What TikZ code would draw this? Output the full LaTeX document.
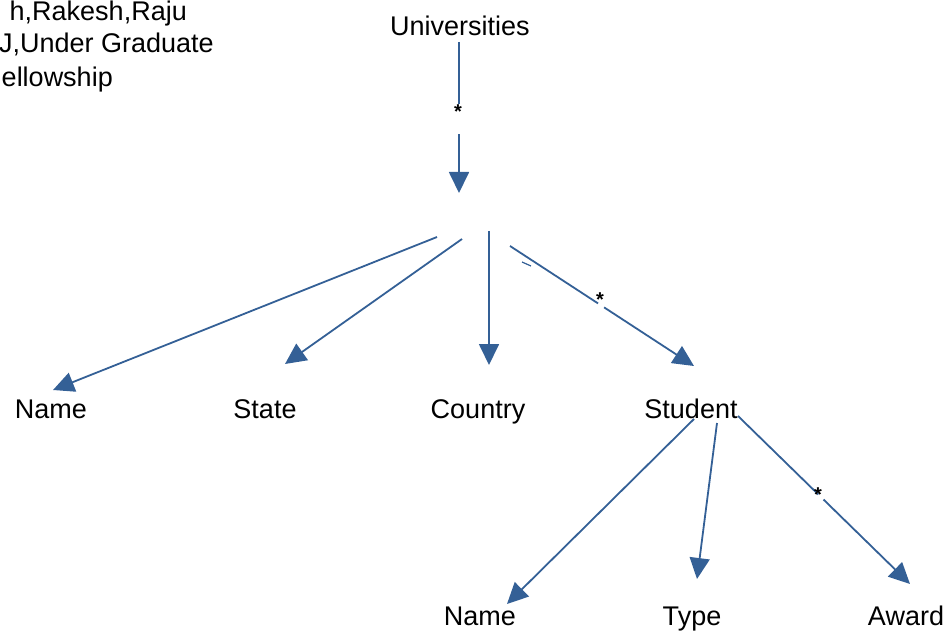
\documentclass[tikz,border=0pt]{standalone}
\usepackage{fontspec}
\setmainfont{Liberation Sans}
\usetikzlibrary{arrows.meta}
\definecolor{linkblue}{RGB}{52,96,150}
\tikzset{
  lbl/.style={inner sep=0pt, anchor=base, font=\fontsize{27}{30}\selectfont},
  leftlbl/.style={lbl, anchor=base east},
  link/.style={draw=linkblue, line width=1.8pt, -{Triangle[length=21pt,width=20pt]}},
  gap/.style={fill=white, inner sep=0pt, minimum width=7pt},
  star/.style={inner sep=0pt, font=\fontsize{20}{20}\bfseries\selectfont}
}
\begin{document}
\begin{tikzpicture}[x=1pt,y=-1pt]
\useasboundingbox (0,0) rectangle (951,631);
% left text block
\node[leftlbl] (l1) at (187,21) {h,Rakesh,Raju};
\node[leftlbl] (l2) at (214,53) {J,Under Graduate};
\node[leftlbl] (l3) at (113,87) {ellowship};
% nodes
\node[lbl] (univ) at (460,36) {Universities};
\node[lbl] (name) at (51,418) {Name};
\node[lbl] (state) at (265,418) {State};
\node[lbl] (country) at (478,418) {Country};
\node[lbl] (student) at (691,418) {Student};
\node[lbl] (sname) at (480,625) {Name};
\node[lbl] (type) at (692,625) {Type};
\node[lbl] (award) at (906,625) {Award};
% connector end points
\coordinate (u0) at (459,42);
\coordinate (hub) at (459,193);
\coordinate (h1) at (437,237);
\coordinate (h2) at (462,239);
\coordinate (h3) at (489,231);
\coordinate (h4) at (510,246);
\coordinate (t1) at (53,390);
\coordinate (t2) at (285,364);
\coordinate (t3) at (489,365);
\coordinate (t4) at (694,366);
\coordinate (s1) at (694,419);
\coordinate (s2) at (717,423);
\coordinate (s3) at (738,416);
\coordinate (p1) at (507,604);
\coordinate (p2) at (697,579);
\coordinate (p3) at (910,584);
% connectors
\draw[link] (u0) -- (hub);
\draw[link] (h1) -- (t1);
\draw[link] (h2) -- (t2);
\draw[link] (h3) -- (t3);
\draw[link] (h4) -- (t4);
\draw[link] (s1) -- (p1);
\draw[link] (s2) -- (p2);
\draw[link] (s3) -- (p3);
% gaps and star labels
\node[gap, minimum height=30pt] (g0) at (459,119) {};
\node[star] (st0) at (458,112) {*};
\node[gap, minimum height=16pt, rotate=-33] (g1) at (602,304) {};
\node[star] (st1) at (600,300) {*};
\node[gap, minimum height=14pt, rotate=-43] (g2) at (820,498) {};
\node[star] (st2) at (818,495) {*};
% small tick mark
\draw[linkblue, line width=1.2pt] (522,262) -- (531,266);
\end{tikzpicture}
\end{document}
